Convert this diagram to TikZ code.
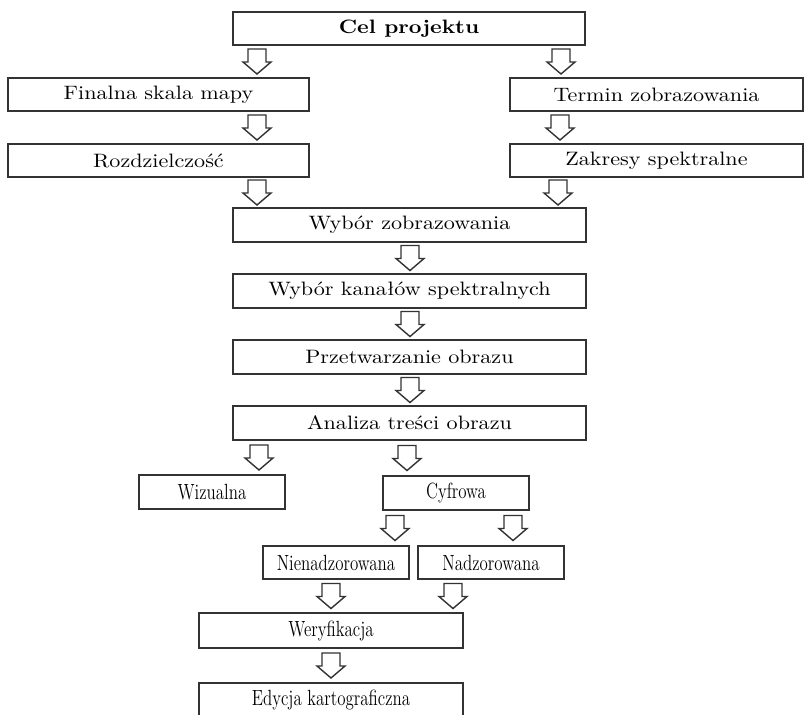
\documentclass[tikz,border=0pt]{standalone}
\usepackage{tikz}
\usepackage{graphicx}
\usetikzlibrary{calc}
\newcommand{\widetxt}[1]{\scalebox{1.14}[1]{#1}}
\newcommand{\narrowtxt}[1]{\scalebox{0.77}[1]{#1}}
\tikzset{box/.style={draw=black!80, line width=0.7pt, minimum height=16.5pt, inner sep=0,
    font=\fontsize{9.7}{12}\selectfont},
  lowbox/.style={box, minimum width=73pt, minimum height=17pt, font=\fontsize{11}{13}\selectfont},
  arrline/.style={draw=black!80, line width=0.7pt, fill=white},
  pics/darrow/.style={code={
    \draw[arrline] (-9,-12.5) -- (9,-12.5) -- (9,0.5) -- (14,0.5) -- (0,12.5)
      -- (-14,0.5) -- (-9,0.5) -- cycle;}}}

\begin{document}
\begin{tikzpicture}[x=0.5pt, y=-0.5pt]
    \useasboundingbox (0,0) rectangle (804,714);

    \node[box, minimum width=176pt] (cel) at (409,28.5) {\widetxt{\textbf{Cel projektu}}};
    \node[box, minimum width=150.5pt] (skala) at (158.5,94.5) {\widetxt{Finalna skala mapy}};
    \node[box, minimum width=146.5pt] (termin) at (656.5,94.5) {\widetxt{Termin zobrazowania}};
    \node[box, minimum width=150.5pt] (rozdz) at (158.5,160.5) {\widetxt{Rozdzielczość}};
    \node[box, minimum width=146.5pt] (zakresy) at (656.5,160.5) {\widetxt{Zakresy spektralne}};
    \node[box, minimum width=176.5pt, minimum height=17pt] (wybor) at (409.5,225) {\widetxt{Wybór zobrazowania}};
    \node[box, minimum width=176.5pt, minimum height=17pt] (kanaly) at (409.5,291) {\widetxt{Wybór kanałów spektralnych}};
    \node[box, minimum width=176.5pt, minimum height=17pt] (przetw) at (409.5,357) {\widetxt{Przetwarzanie obrazu}};
    \node[box, minimum width=176.5pt, minimum height=17pt] (analiza) at (409.5,423) {\widetxt{Analiza treści obrazu}};
    \node[lowbox] (wizualna) at (212,492) {\narrowtxt{Wizualna}};
    \node[lowbox] (cyfrowa) at (456,493) {\narrowtxt{Cyfrowa}};
    \node[lowbox, minimum height=16.5pt] (nienadz) at (336,562.5) {\narrowtxt{Nienadzorowana}};
    \node[lowbox, minimum height=16.5pt] (nadz) at (491,562.5) {\narrowtxt{Nadzorowana}};
    \node[lowbox, minimum width=132pt, minimum height=17.5pt] (weryf) at (331,630.5) {\narrowtxt{Weryfikacja}};
    \node[lowbox, minimum width=132pt] (edycja) at (331,700) {\narrowtxt{Edycja kartograficzna}};

    \foreach \a/\b/\x in {cel/skala/257, cel/termin/561, skala/rozdz/257, termin/zakresy/560,
      rozdz/wybor/257, zakresy/wybor/558, wybor/kanaly/410, kanaly/przetw/410,
      przetw/analiza/410, analiza/wizualna/259, analiza/cyfrowa/407, cyfrowa/nienadz/395,
      cyfrowa/nadz/513, nienadz/weryf/331, nadz/weryf/453, weryf/edycja/331}
    {
      \pic at ($(\a.south -| \x,0)!.5!(\b.north -| \x,0)$) {darrow};
    }
\end{tikzpicture}
\end{document}
